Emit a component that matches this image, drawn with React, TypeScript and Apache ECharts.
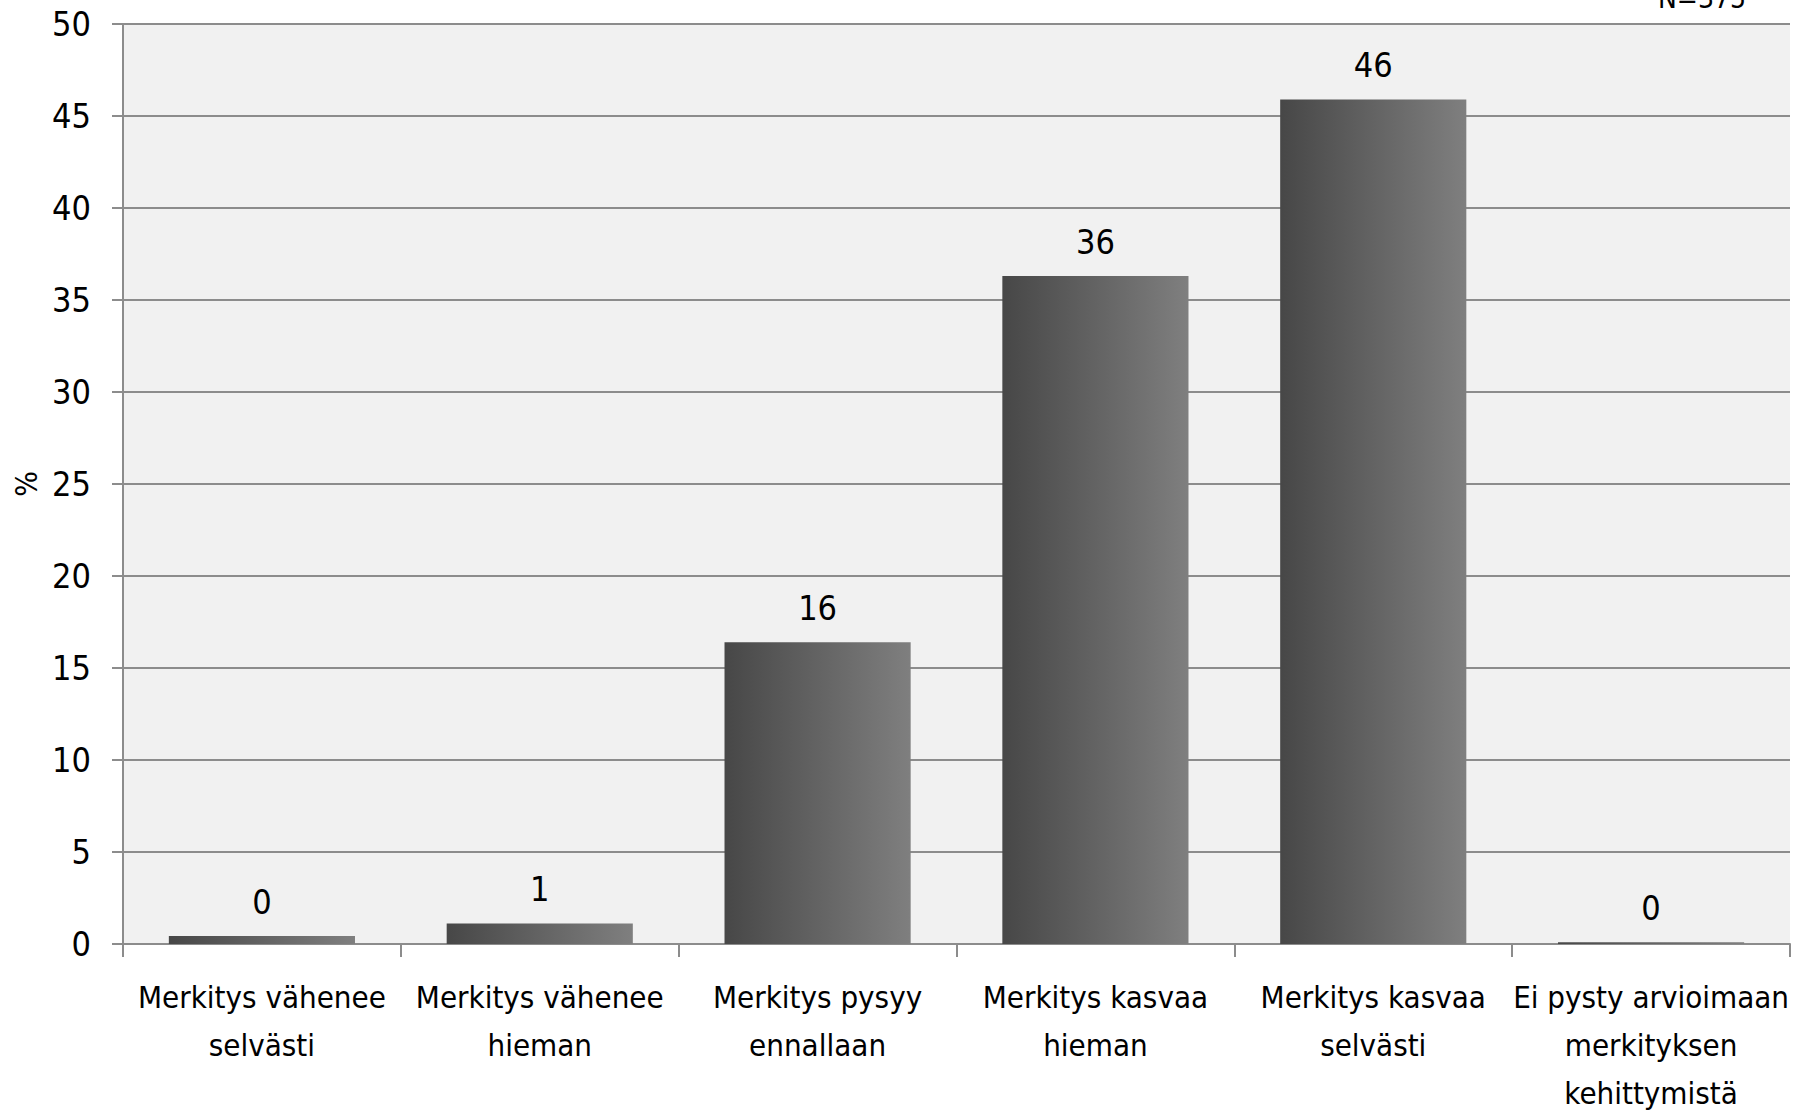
import React, { useEffect, useRef } from "react";
import * as echarts from "echarts";

const categories = [
  "Merkitys vähenee\nselvästi",
  "Merkitys vähenee\nhieman",
  "Merkitys pysyy\nennallaan",
  "Merkitys kasvaa\nhieman",
  "Merkitys kasvaa\nselvästi",
  "Ei pysty arvioimaan\nmerkityksen\nkehittymistä",
];
const values = [0.43, 1.12, 16.4, 36.3, 45.9, 0.1];
const valueLabels = ["0", "1", "16", "36", "46", "0"];
const yTicks = { min: 0, max: 50, interval: 5 };
const axisName = "%";
const note = "N=375";

const FONT = '"DejaVu Sans Condensed", "Liberation Sans Narrow", sans-serif';

export default function App() {
  const ref = useRef<HTMLDivElement>(null);
  useEffect(() => {
    if (!ref.current) return;
    const chart = echarts.init(ref.current, null, { renderer: "svg" });
    chart.setOption({
      animation: false,
      backgroundColor: "#ffffff",
      textStyle: { fontFamily: FONT },
      grid: {
        left: 123,
        right: 22,
        top: 24,
        bottom: 170,
        outerBoundsMode: "none",
        containLabel: false,
        show: true,
        backgroundColor: "#f1f1f1",
        borderWidth: 0,
      },
      graphic: [
        {
          type: "text",
          left: 1658,
          top: -16,
          style: {
            text: note,
            fontFamily: FONT,
            fontSize: 28,
            fill: "#000",
          },
        },
      ],
      xAxis: {
        type: "category",
        data: categories,
        boundaryGap: true,
        axisLine: { show: true, lineStyle: { color: "#8c8c8c", width: 2 } },
        axisTick: { show: true, length: 13, lineStyle: { color: "#8c8c8c", width: 2 } },
        axisLabel: {
          interval: 0,
          margin: 29,
          color: "#000",
          fontFamily: FONT,
          fontSize: 31,
          lineHeight: 48,
        },
      },
      yAxis: {
        type: "value",
        min: yTicks.min,
        max: yTicks.max,
        interval: yTicks.interval,
        name: axisName,
        nameLocation: "middle",
        nameRotate: 90,
        nameGap: 82,
        nameTextStyle: { color: "#000", fontFamily: FONT, fontSize: 30 },
        axisLine: { show: true, lineStyle: { color: "#8c8c8c", width: 2 } },
        axisTick: { show: true, length: 11, lineStyle: { color: "#8c8c8c", width: 2 } },
        axisLabel: {
          margin: 32,
          color: "#000",
          fontFamily: FONT,
          fontSize: 34,
        },
        splitLine: { show: true, lineStyle: { color: "#8c8c8c", width: 2 } },
      },
      series: [
        {
          type: "bar",
          data: values,
          barCategoryGap: "33%",
          itemStyle: {
            color: new echarts.graphic.LinearGradient(0, 0, 1, 0, [
              { offset: 0, color: "#474747" },
              { offset: 1, color: "#7f7f7f" },
            ]),
          },
          label: {
            show: true,
            position: "top",
            distance: 17,
            color: "#000",
            fontFamily: FONT,
            fontSize: 34,
            formatter: (p: any) => valueLabels[p.dataIndex],
          },
        },
      ],
    });
    return () => chart.dispose();
  }, []);
  return (
    <div
      ref={ref}
      style={{ position: "fixed", left: 0, top: 0, width: 1812, height: 1114 }}
    />
  );
}
